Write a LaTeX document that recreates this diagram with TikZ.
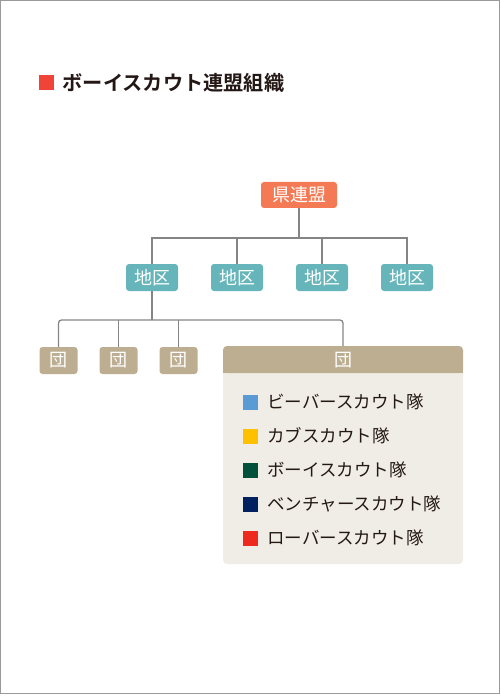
\documentclass[tikz,border=0pt]{standalone}
\usepackage{fontspec}
\setmainfont{Noto Sans CJK JP}
\newfontfamily\jpb{Noto Sans CJK JP Bold}
\definecolor{kencol}{HTML}{F47A55}
\definecolor{chikucol}{HTML}{66B5BA}
\definecolor{dancol}{HTML}{BDAE92}
\definecolor{dbody}{HTML}{F0EDE6}
\definecolor{linecol}{HTML}{858585}
\definecolor{framecol}{HTML}{9A9A9A}
\definecolor{titlered}{HTML}{F04438}
\definecolor{cbeaver}{HTML}{5B9BD5}
\definecolor{ccub}{HTML}{FFC000}
\definecolor{cboy}{HTML}{00503C}
\definecolor{cventure}{HTML}{002060}
\definecolor{crover}{HTML}{EE2A1E}
\definecolor{txt}{HTML}{231815}
\begin{document}
\begin{tikzpicture}[x=1pt,y=-1pt,
  orgbox/.style={rounded corners=3pt,inner sep=0pt,text=white,font=\fontsize{18}{18}\selectfont},
  kenbox/.style={orgbox,fill=kencol,minimum width=76pt,minimum height=26pt},
  chikubox/.style={orgbox,fill=chikucol,minimum width=52pt,minimum height=27pt},
  danbox/.style={orgbox,fill=dancol,minimum width=38pt,minimum height=27pt},
  conn/.style={draw=linecol,line width=1.3pt},
  legsq/.style={minimum size=15pt,inner sep=0pt},
  legtxt/.style={anchor=west,inner sep=0pt,text=txt,font=\fontsize{17.5}{17.5}\selectfont}]
\useasboundingbox (0,0) rectangle (500,700);
\draw[framecol,line width=1pt] (0.5,0.5) rectangle (499,693);
% title
\node[fill=titlered,minimum size=15pt,inner sep=0pt] (tsq) at (46.5,83) {};
\node[anchor=west,inner sep=0pt,text=txt,font=\jpb\fontsize{20.2}{20.2}\selectfont] (title) at (62.5,83) {ボーイスカウト連盟組織};
% top
\node[kenbox] (ken) at (299,195) {県連盟};
\node[chikubox] (c1) at (152,277.5) {地区};
\node[chikubox] (c2) at (237,277.5) {地区};
\node[chikubox] (c3) at (322,277.5) {地区};
\node[chikubox] (c4) at (407,277.5) {地区};
\coordinate (hj) at (299,238);
\draw[conn] (ken.south) -- (hj);
\draw[conn] (c1.north) |- (c4.north |- hj) -- (c4.north);
\draw[conn] (c2.north) -- (c2.north |- hj);
\draw[conn] (c3.north) -- (c3.north |- hj);
% dan
\node[danbox] (d1) at (58.5,360.5) {団};
\node[danbox] (d2) at (118.5,360.5) {団};
\node[danbox] (d3) at (178.5,360.5) {団};
\fill[dbody,rounded corners=4pt] (223,346) rectangle (463,564);
\fill[dancol,rounded corners=4pt] (223,346) rectangle (463,373);
\fill[dancol] (223,362) rectangle (463,373);
\node[inner sep=0pt,text=white,font=\fontsize{18}{18}\selectfont] (d4) at (343,360) {団};
\coordinate (d4top) at (343,346);
\coordinate (dj) at (152,320);
\draw[conn] (c1.south) -- (dj);
\draw[conn,rounded corners=3pt] (d1.north) |- (dj) -| (d4top);
\draw[conn] (d2.north) -- (d2.north |- dj);
\draw[conn] (d3.north) -- (d3.north |- dj);
% legend
\node[legsq,fill=cbeaver] (s1) at (250.5,402) {};
\node[legtxt] (t1) at (267,402) {ビーバースカウト隊};
\node[legsq,fill=ccub] (s2) at (250.5,436) {};
\node[legtxt] (t2) at (267,436) {カブスカウト隊};
\node[legsq,fill=cboy] (s3) at (250.5,470) {};
\node[legtxt] (t3) at (267,470) {ボーイスカウト隊};
\node[legsq,fill=cventure] (s4) at (250.5,504) {};
\node[legtxt] (t4) at (267,504) {ベンチャースカウト隊};
\node[legsq,fill=crover] (s5) at (250.5,538) {};
\node[legtxt] (t5) at (267,538) {ローバースカウト隊};
\end{tikzpicture}
\end{document}
